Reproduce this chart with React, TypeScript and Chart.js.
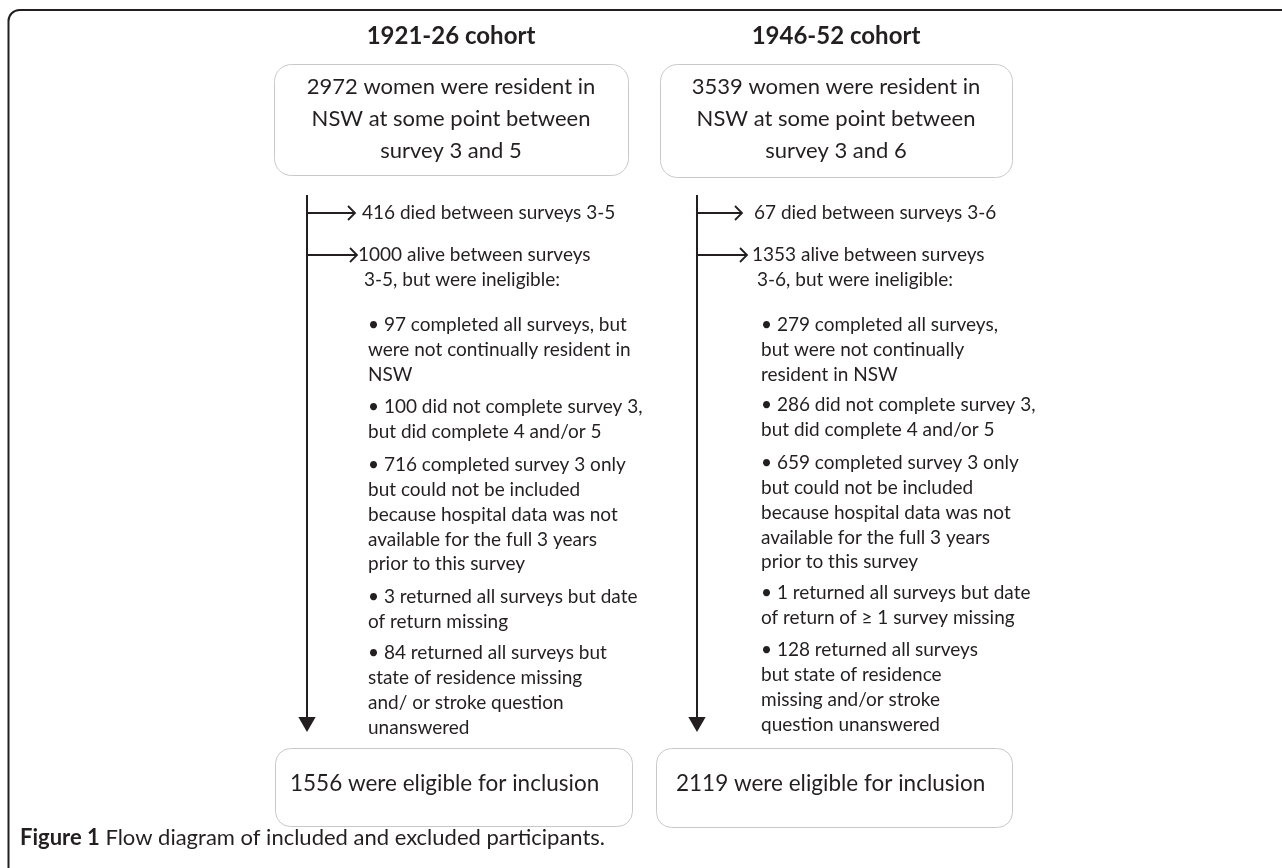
import React, { useEffect, useRef } from "react";
import { Chart, registerables } from "chart.js";

Chart.register(...registerables);

// ---------- content ----------
const cohortTitles = ["1921-26 cohort", "1946-52 cohort"];

const startLines = [
  ["2972 women were resident in", "NSW at some point between", "survey 3 and 5"],
  ["3539 women were resident in", "NSW at some point between", "survey 3 and 6"],
];

const diedLines = ["416 died between surveys 3-5", "67 died between surveys 3-6"];

const aliveLines = [
  ["1000 alive between surveys", "3-5, but were ineligible:"],
  ["1353 alive between surveys", "3-6, but were ineligible:"],
];

const bulletsLeft = [
  ["• 97 completed all surveys, but", "were not continually resident in", "NSW"],
  ["• 100 did not complete survey 3,", "but did complete 4 and/or 5"],
  [
    "• 716 completed survey 3 only",
    "but could not be included",
    "because hospital data was not",
    "available for the full 3 years",
    "prior to this survey",
  ],
  ["• 3 returned all surveys but date", "of return missing"],
  ["• 84 returned all surveys but", "state of residence missing", "and/ or stroke question", "unanswered"],
];

const bulletsRight = [
  ["• 279 completed all surveys,", "but were not continually", "resident in NSW"],
  ["• 286 did not complete survey 3,", "but did complete 4 and/or 5"],
  [
    "• 659 completed survey 3 only",
    "but could not be included",
    "because hospital data was not",
    "available for the full 3 years",
    "prior to this survey",
  ],
  ["• 1 returned all surveys but date", "of return of ≥ 1 survey missing"],
  ["• 128 returned all surveys", "but state of residence", "missing and/or stroke", "question unanswered"],
];

const eligibleLines = ["1556 were eligible for inclusion", "2119 were eligible for inclusion"];

const captionBold = "Figure 1";
const captionText = " Flow diagram of included and excluded participants.";

// ---------- layout (diagram coordinates, scale units) ----------
const W = 1282;
const H = 868;
const layout = [
  {
    titleX: 451,
    topBox: { x: 274, y: 64, w: 354, h: 111 },
    topCx: 451,
    trunkX: 307,
    branchTipX: [355, 357],
    branchTextX: [362, 358],
    aliveLine2X: 364,
    bulletX: 368,
    bulletY: [325, 407, 465, 597, 653],
    bottomBox: { x: 275, y: 748, w: 357, h: 78 },
    bottomTextX: 290,
  },
  {
    titleX: 836,
    topBox: { x: 660, y: 64, w: 352, h: 113 },
    topCx: 836,
    trunkX: 697,
    branchTipX: [742, 747],
    branchTextX: [754, 752],
    aliveLine2X: 757,
    bulletX: 761,
    bulletY: [325, 405, 463, 593, 650],
    bottomBox: { x: 656, y: 748, w: 356, h: 79 },
    bottomTextX: 676,
  },
];
const titleY = 36;
const topLineY = [87, 119, 151];
const trunkTop = 195;
const trunkBottom = 720;
const arrowTipY = 732;
const branchY = [213, 255];
const aliveLine2Y = 280;
const bulletLineGap = 24.8;
const bottomTextY = 784;
const captionY = 838;
const captionX = 20;

const INK = "#231f20";
const BOX = "#c9c9c9";
const FONT = "Lato, 'Open Sans', sans-serif";

const bulletSets = [bulletsLeft, bulletsRight];

const diagramPlugin = {
  id: "flowDiagram",
  afterDatasetsDraw(chart: any) {
    const ctx: CanvasRenderingContext2D = chart.ctx;
    const xs = chart.scales.x;
    const ys = chart.scales.y;
    const px = (v: number) => xs.getPixelForValue(v);
    const py = (v: number) => ys.getPixelForValue(v);

    ctx.save();
    // outer frame
    ctx.strokeStyle = INK;
    ctx.lineWidth = 2;
    ctx.beginPath();
    ctx.moveTo(px(8.5), py(H));
    ctx.lineTo(px(8.5), py(21));
    ctx.arcTo(px(8.5), py(10), px(20), py(10), 11);
    ctx.lineTo(px(W), py(10));
    ctx.stroke();

    const roundBox = (b: { x: number; y: number; w: number; h: number }, r: number) => {
      const x0 = px(b.x) + 0.5, y0 = py(b.y) + 0.5, x1 = px(b.x + b.w) + 0.5, y1 = py(b.y + b.h) + 0.5;
      ctx.beginPath();
      ctx.moveTo(x0 + r, y0);
      ctx.arcTo(x1, y0, x1, y1, r);
      ctx.arcTo(x1, y1, x0, y1, r);
      ctx.arcTo(x0, y1, x0, y0, r);
      ctx.arcTo(x0, y0, x1, y0, r);
      ctx.closePath();
      ctx.strokeStyle = BOX;
      ctx.lineWidth = 1;
      ctx.stroke();
    };

    ctx.fillStyle = INK;
    ctx.textBaseline = "middle";

    layout.forEach((L, i) => {
      // title
      ctx.font = `bold 24px ${FONT}`;
      ctx.textAlign = "center";
      ctx.fillText(cohortTitles[i], px(L.titleX), py(titleY));

      // top box
      roundBox(L.topBox, 17);
      ctx.font = `22px ${FONT}`;
      startLines[i].forEach((t, k) => ctx.fillText(t, px(L.topCx), py(topLineY[k])));

      // branch arrowheads (open chevrons)
      ctx.strokeStyle = INK;
      ctx.lineWidth = 1.8;
      L.branchTipX.forEach((tx, k) => {
        ctx.beginPath();
        ctx.moveTo(px(tx) - 7, py(branchY[k]) - 7);
        ctx.lineTo(px(tx), py(branchY[k]));
        ctx.lineTo(px(tx) - 7, py(branchY[k]) + 7);
        ctx.stroke();
      });

      // branch texts
      ctx.textAlign = "left";
      ctx.font = `19px ${FONT}`;
      ctx.fillText(diedLines[i], px(L.branchTextX[0]), py(branchY[0]));
      ctx.fillText(aliveLines[i][0], px(L.branchTextX[1]), py(branchY[1]));
      ctx.fillText(aliveLines[i][1], px(L.aliveLine2X), py(aliveLine2Y));

      // bullets
      bulletSets[i].forEach((group, g) => {
        group.forEach((t, k) => {
          ctx.fillText(t, px(L.bulletX), py(L.bulletY[g] + k * bulletLineGap));
        });
      });

      // bottom box
      roundBox(L.bottomBox, 15);
      ctx.fillStyle = INK;
      ctx.font = `22.5px ${FONT}`;
      ctx.textAlign = "left";
      ctx.fillText(eligibleLines[i], px(L.bottomTextX), py(bottomTextY));
    });

    // caption
    ctx.textAlign = "left";
    ctx.font = `bold 22px ${FONT}`;
    const bx = px(captionX);
    ctx.fillText(captionBold, bx, py(captionY));
    const bw = ctx.measureText(captionBold).width;
    ctx.font = `22px ${FONT}`;
    ctx.fillText(captionText, bx + bw, py(captionY));
    ctx.restore();
  },
};

export default function App() {
  const ref = useRef<HTMLCanvasElement | null>(null);

  useEffect(() => {
    if (!ref.current) return;
    const trunkSets = layout.map((L) => ({
      type: "line" as const,
      data: [
        { x: L.trunkX, y: trunkTop },
        { x: L.trunkX, y: trunkBottom },
      ],
      borderColor: INK,
      borderWidth: 2,
      pointRadius: 0,
    }));
    const branchSets = layout.flatMap((L) =>
      L.branchTipX.map((tx, k) => ({
        type: "line" as const,
        data: [
          { x: L.trunkX, y: branchY[k] },
          { x: tx, y: branchY[k] },
        ],
        borderColor: INK,
        borderWidth: 1.8,
        pointRadius: 0,
      }))
    );
    const headSet = {
      type: "scatter" as const,
      data: layout.map((L) => ({ x: L.trunkX, y: arrowTipY - 10 })),
      pointStyle: "triangle",
      rotation: 180,
      radius: 10,
      backgroundColor: INK,
      borderColor: INK,
      borderWidth: 0,
    };

    const chart = new Chart(ref.current, {
      type: "scatter",
      data: { datasets: [...trunkSets, ...branchSets, headSet] as any },
      options: {
        animation: false,
        responsive: false,
        maintainAspectRatio: false,
        layout: { padding: 0, autoPadding: false },
        plugins: { legend: { display: false }, tooltip: { enabled: false } },
        scales: {
          x: { type: "linear", min: 0, max: W, display: false },
          y: { type: "linear", min: 0, max: H, reverse: true, display: false },
        },
        events: [],
      },
      plugins: [diagramPlugin],
    });
    return () => chart.destroy();
  }, []);

  return (
    <div style={{ position: "fixed", left: 0, top: 0, width: W, height: H, background: "#fff" }}>
      <canvas ref={ref} width={W} height={H} style={{ display: "block", width: W, height: H }} />
    </div>
  );
}
